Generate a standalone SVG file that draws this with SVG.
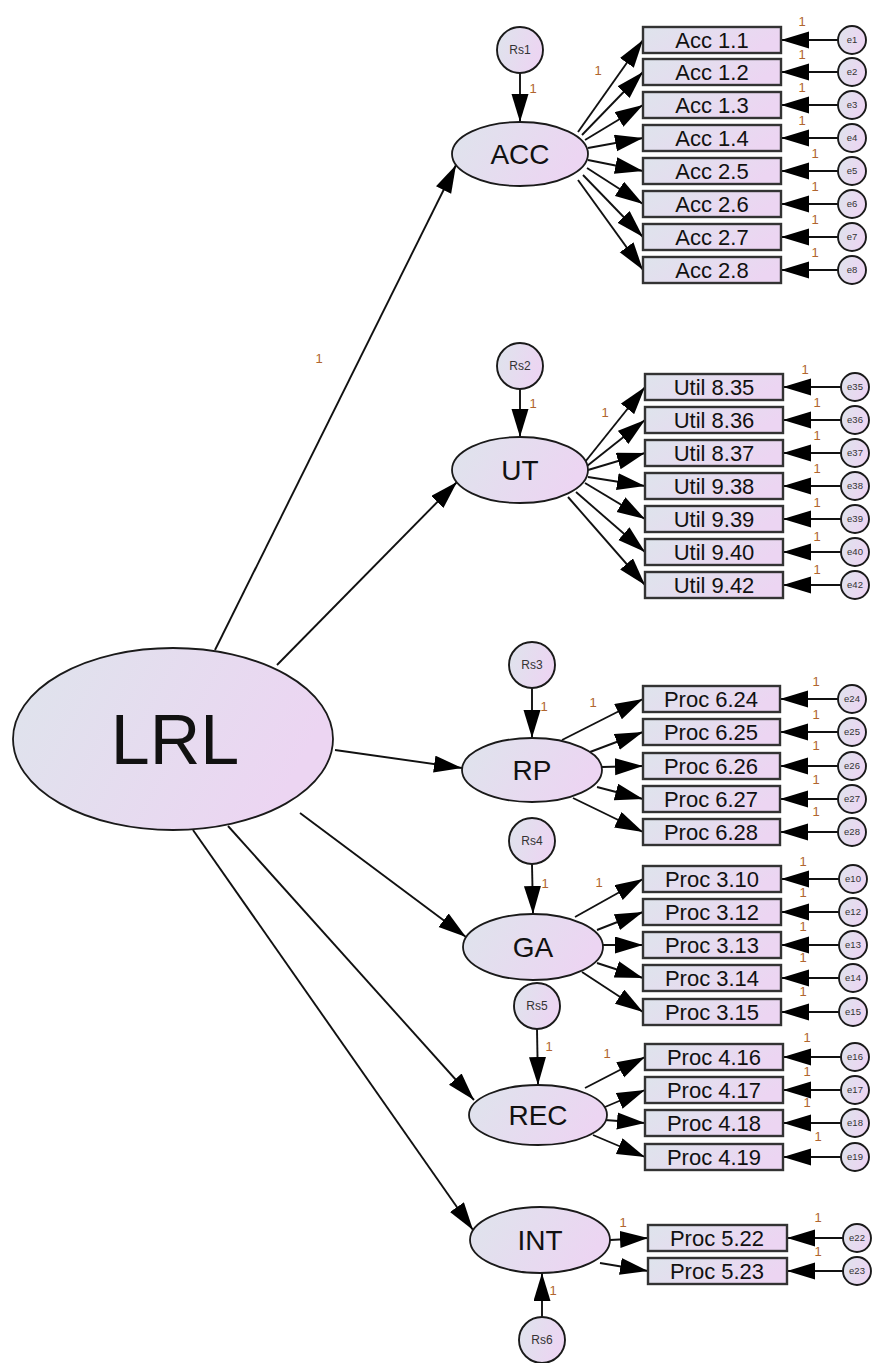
<svg xmlns="http://www.w3.org/2000/svg" width="874" height="1363" viewBox="0 0 874 1363">
<style>
.lat{fill:url(#g);stroke:#1a1a1a;stroke-width:1.8}
.obs{fill:url(#g);stroke:#333;stroke-width:2.4}
.err{fill:url(#g);stroke:#1a1a1a;stroke-width:1.9}
.ln{stroke:#111;stroke-width:1.9;fill:none;marker-end:url(#ah)}
.tx{font-family:"Liberation Sans",Arial,sans-serif;fill:#111;text-anchor:middle}
.big{font-size:70px}
.lt{font-size:28px}
.ot{font-size:22px}
.rs{font-size:12px;fill:#333}
.et{font-size:9.5px;fill:#333}
.one{font-family:"Liberation Sans",Arial,sans-serif;font-size:13px;fill:#b0652d;text-anchor:middle}
</style>
<defs>
<linearGradient id="g" x1="0" y1="0" x2="1" y2="0.3">
<stop offset="0" stop-color="#dee4ec"/>
<stop offset="1" stop-color="#ecd5f2"/>
</linearGradient>
<marker id="ah" markerUnits="userSpaceOnUse" markerWidth="30" markerHeight="18" refX="28" refY="8.5" orient="auto">
<path d="M0,0 L28,8.5 L0,17 z" fill="#000"/>
</marker>
</defs>
<rect width="874" height="1363" fill="#fff"/>

<g id="connectors">
<line class="ln" x1="215" y1="650" x2="456" y2="165"/>
<line class="ln" x1="277" y1="665" x2="457" y2="482"/>
<line class="ln" x1="335" y1="750" x2="462" y2="768"/>
<line class="ln" x1="300" y1="813" x2="466" y2="937"/>
<line class="ln" x1="228" y1="826" x2="474" y2="1100"/>
<line class="ln" x1="193" y1="830" x2="473" y2="1230"/>
<line class="ln" x1="520" y1="73" x2="520" y2="122"/>
<line class="ln" x1="520" y1="389" x2="520" y2="437"/>
<line class="ln" x1="532" y1="688" x2="532" y2="738"/>
<line class="ln" x1="532" y1="864" x2="533" y2="914"/>
<line class="ln" x1="537" y1="1029" x2="538" y2="1085"/>
<line class="ln" x1="542" y1="1317" x2="542" y2="1273"/>
<line class="ln" x1="578" y1="132" x2="643" y2="40"/>
<line class="ln" x1="582" y1="135" x2="643" y2="72"/>
<line class="ln" x1="585" y1="140" x2="643" y2="105"/>
<line class="ln" x1="588" y1="148" x2="643" y2="138"/>
<line class="ln" x1="588" y1="160" x2="643" y2="171"/>
<line class="ln" x1="587" y1="168" x2="643" y2="204"/>
<line class="ln" x1="583" y1="175" x2="643" y2="237"/>
<line class="ln" x1="578" y1="180" x2="643" y2="270"/>
<line class="ln" x1="585" y1="462" x2="645" y2="387"/>
<line class="ln" x1="587" y1="466" x2="645" y2="420"/>
<line class="ln" x1="588" y1="470" x2="645" y2="453"/>
<line class="ln" x1="588" y1="477" x2="645" y2="486"/>
<line class="ln" x1="585" y1="483" x2="645" y2="519"/>
<line class="ln" x1="576" y1="492" x2="645" y2="552"/>
<line class="ln" x1="568" y1="497" x2="645" y2="585"/>
<line class="ln" x1="562" y1="740" x2="643" y2="699"/>
<line class="ln" x1="590" y1="752" x2="643" y2="732"/>
<line class="ln" x1="602" y1="767" x2="643" y2="766"/>
<line class="ln" x1="597" y1="787" x2="643" y2="799"/>
<line class="ln" x1="573" y1="798" x2="643" y2="832"/>
<line class="ln" x1="575" y1="917" x2="643" y2="879"/>
<line class="ln" x1="597" y1="930" x2="643" y2="912"/>
<line class="ln" x1="603" y1="945" x2="643" y2="945"/>
<line class="ln" x1="597" y1="963" x2="643" y2="978"/>
<line class="ln" x1="582" y1="972" x2="643" y2="1012"/>
<line class="ln" x1="585" y1="1088" x2="645" y2="1057"/>
<line class="ln" x1="605" y1="1107" x2="645" y2="1090"/>
<line class="ln" x1="605" y1="1120" x2="645" y2="1123"/>
<line class="ln" x1="593" y1="1135" x2="645" y2="1157"/>
<line class="ln" x1="610" y1="1240" x2="648" y2="1238"/>
<line class="ln" x1="600" y1="1263" x2="648" y2="1271"/>
<line class="ln" x1="838" y1="40" x2="781" y2="40"/>
<line class="ln" x1="838" y1="72" x2="781" y2="72"/>
<line class="ln" x1="838" y1="105" x2="781" y2="105"/>
<line class="ln" x1="838" y1="138" x2="781" y2="138"/>
<line class="ln" x1="838" y1="171" x2="781" y2="171"/>
<line class="ln" x1="838" y1="204" x2="781" y2="204"/>
<line class="ln" x1="838" y1="237" x2="781" y2="237"/>
<line class="ln" x1="838" y1="270" x2="781" y2="270"/>
<line class="ln" x1="841" y1="387" x2="783" y2="387"/>
<line class="ln" x1="841" y1="420" x2="783" y2="420"/>
<line class="ln" x1="841" y1="453" x2="783" y2="453"/>
<line class="ln" x1="841" y1="486" x2="783" y2="486"/>
<line class="ln" x1="841" y1="519" x2="783" y2="519"/>
<line class="ln" x1="841" y1="552" x2="783" y2="552"/>
<line class="ln" x1="841" y1="585" x2="783" y2="585"/>
<line class="ln" x1="838" y1="699" x2="780" y2="699"/>
<line class="ln" x1="838" y1="732" x2="780" y2="732"/>
<line class="ln" x1="838" y1="766" x2="780" y2="766"/>
<line class="ln" x1="838" y1="799" x2="780" y2="799"/>
<line class="ln" x1="838" y1="832" x2="780" y2="832"/>
<line class="ln" x1="839" y1="879" x2="781" y2="879"/>
<line class="ln" x1="839" y1="912" x2="781" y2="912"/>
<line class="ln" x1="839" y1="945" x2="781" y2="945"/>
<line class="ln" x1="839" y1="978" x2="781" y2="978"/>
<line class="ln" x1="839" y1="1012" x2="781" y2="1012"/>
<line class="ln" x1="841" y1="1057" x2="783" y2="1057"/>
<line class="ln" x1="841" y1="1090" x2="783" y2="1090"/>
<line class="ln" x1="841" y1="1123" x2="783" y2="1123"/>
<line class="ln" x1="841" y1="1157" x2="783" y2="1157"/>
<line class="ln" x1="843" y1="1238" x2="787" y2="1238"/>
<line class="ln" x1="843" y1="1271" x2="787" y2="1271"/>
<text class="one" x="319" y="363">1</text>
<text class="one" x="598" y="75">1</text>
<text class="one" x="605" y="417">1</text>
<text class="one" x="593" y="707">1</text>
<text class="one" x="599" y="887">1</text>
<text class="one" x="607" y="1058">1</text>
<text class="one" x="623" y="1227">1</text>
<text class="one" x="533" y="93">1</text>
<text class="one" x="533" y="408">1</text>
<text class="one" x="544" y="711">1</text>
<text class="one" x="545" y="888">1</text>
<text class="one" x="549" y="1051">1</text>
<text class="one" x="553" y="1295">1</text>
<text class="one" x="802" y="26">1</text>
<text class="one" x="802" y="59">1</text>
<text class="one" x="802" y="92">1</text>
<text class="one" x="802" y="125">1</text>
<text class="one" x="815" y="158">1</text>
<text class="one" x="815" y="191">1</text>
<text class="one" x="815" y="224">1</text>
<text class="one" x="815" y="257">1</text>
<text class="one" x="805" y="374">1</text>
<text class="one" x="817" y="407">1</text>
<text class="one" x="817" y="440">1</text>
<text class="one" x="817" y="473">1</text>
<text class="one" x="817" y="507">1</text>
<text class="one" x="817" y="541">1</text>
<text class="one" x="817" y="574">1</text>
<text class="one" x="816" y="686">1</text>
<text class="one" x="816" y="719">1</text>
<text class="one" x="816" y="750">1</text>
<text class="one" x="816" y="784">1</text>
<text class="one" x="816" y="816">1</text>
<text class="one" x="803" y="866">1</text>
<text class="one" x="803" y="897">1</text>
<text class="one" x="803" y="931">1</text>
<text class="one" x="803" y="962">1</text>
<text class="one" x="803" y="996">1</text>
<text class="one" x="807" y="1042">1</text>
<text class="one" x="807" y="1076">1</text>
<text class="one" x="807" y="1107">1</text>
<text class="one" x="818" y="1141">1</text>
<text class="one" x="818" y="1222">1</text>
<text class="one" x="818" y="1256">1</text>
</g>

<g id="LRL"><ellipse class="lat" cx="173" cy="739" rx="160" ry="91"/><text class="tx big" x="175" y="764">LRL</text></g>

<g id="ACC"><ellipse class="lat" cx="520" cy="154" rx="68" ry="32"/><text class="tx lt" x="520" y="164">ACC</text></g>
<g id="UT"><ellipse class="lat" cx="520" cy="470" rx="68" ry="33"/><text class="tx lt" x="520" y="480">UT</text></g>
<g id="RP"><ellipse class="lat" cx="532" cy="770" rx="70" ry="32"/><text class="tx lt" x="532" y="780">RP</text></g>
<g id="GA"><ellipse class="lat" cx="533" cy="947" rx="70" ry="33"/><text class="tx lt" x="533" y="957">GA</text></g>
<g id="REC"><ellipse class="lat" cx="538" cy="1115" rx="69" ry="30"/><text class="tx lt" x="538" y="1125">REC</text></g>
<g id="INT"><ellipse class="lat" cx="540" cy="1240" rx="70" ry="33"/><text class="tx lt" x="540" y="1250">INT</text></g>

<g id="Rs1"><circle class="err" cx="520" cy="50" r="23"/><text class="tx rs" x="520" y="54">Rs1</text></g>
<g id="Rs2"><circle class="err" cx="520" cy="366" r="23"/><text class="tx rs" x="520" y="370">Rs2</text></g>
<g id="Rs3"><circle class="err" cx="532" cy="665" r="23"/><text class="tx rs" x="532" y="669">Rs3</text></g>
<g id="Rs4"><circle class="err" cx="532" cy="841" r="23"/><text class="tx rs" x="532" y="845">Rs4</text></g>
<g id="Rs5"><circle class="err" cx="537" cy="1006" r="23"/><text class="tx rs" x="537" y="1010">Rs5</text></g>
<g id="Rs6"><circle class="err" cx="542" cy="1340" r="23"/><text class="tx rs" x="542" y="1344">Rs6</text></g>

<g id="acc11"><rect class="obs" x="643" y="27" width="138" height="26"/><text class="tx ot" x="712" y="48">Acc 1.1</text></g>
<g id="acc12"><rect class="obs" x="643" y="59" width="138" height="26"/><text class="tx ot" x="712" y="80">Acc 1.2</text></g>
<g id="acc13"><rect class="obs" x="643" y="92" width="138" height="26"/><text class="tx ot" x="712" y="113">Acc 1.3</text></g>
<g id="acc14"><rect class="obs" x="643" y="125" width="138" height="26"/><text class="tx ot" x="712" y="146">Acc 1.4</text></g>
<g id="acc25"><rect class="obs" x="643" y="158" width="138" height="26"/><text class="tx ot" x="712" y="179">Acc 2.5</text></g>
<g id="acc26"><rect class="obs" x="643" y="191" width="138" height="26"/><text class="tx ot" x="712" y="212">Acc 2.6</text></g>
<g id="acc27"><rect class="obs" x="643" y="224" width="138" height="26"/><text class="tx ot" x="712" y="245">Acc 2.7</text></g>
<g id="acc28"><rect class="obs" x="643" y="257" width="138" height="26"/><text class="tx ot" x="712" y="278">Acc 2.8</text></g>

<g id="u835"><rect class="obs" x="645" y="374" width="138" height="26"/><text class="tx ot" x="714" y="395">Util 8.35</text></g>
<g id="u836"><rect class="obs" x="645" y="407" width="138" height="26"/><text class="tx ot" x="714" y="428">Util 8.36</text></g>
<g id="u837"><rect class="obs" x="645" y="440" width="138" height="26"/><text class="tx ot" x="714" y="461">Util 8.37</text></g>
<g id="u938"><rect class="obs" x="645" y="473" width="138" height="26"/><text class="tx ot" x="714" y="494">Util 9.38</text></g>
<g id="u939"><rect class="obs" x="645" y="506" width="138" height="26"/><text class="tx ot" x="714" y="527">Util 9.39</text></g>
<g id="u940"><rect class="obs" x="645" y="539" width="138" height="26"/><text class="tx ot" x="714" y="560">Util 9.40</text></g>
<g id="u942"><rect class="obs" x="645" y="572" width="138" height="26"/><text class="tx ot" x="714" y="593">Util 9.42</text></g>

<g id="p624"><rect class="obs" x="643" y="686" width="137" height="26"/><text class="tx ot" x="711" y="707">Proc 6.24</text></g>
<g id="p625"><rect class="obs" x="643" y="719" width="137" height="26"/><text class="tx ot" x="711" y="740">Proc 6.25</text></g>
<g id="p626"><rect class="obs" x="643" y="753" width="137" height="26"/><text class="tx ot" x="711" y="774">Proc 6.26</text></g>
<g id="p627"><rect class="obs" x="643" y="786" width="137" height="26"/><text class="tx ot" x="711" y="807">Proc 6.27</text></g>
<g id="p628"><rect class="obs" x="643" y="819" width="137" height="26"/><text class="tx ot" x="711" y="840">Proc 6.28</text></g>

<g id="p310"><rect class="obs" x="643" y="866" width="138" height="26"/><text class="tx ot" x="712" y="887">Proc 3.10</text></g>
<g id="p312"><rect class="obs" x="643" y="899" width="138" height="26"/><text class="tx ot" x="712" y="920">Proc 3.12</text></g>
<g id="p313"><rect class="obs" x="643" y="932" width="138" height="26"/><text class="tx ot" x="712" y="953">Proc 3.13</text></g>
<g id="p314"><rect class="obs" x="643" y="965" width="138" height="26"/><text class="tx ot" x="712" y="986">Proc 3.14</text></g>
<g id="p315"><rect class="obs" x="643" y="999" width="138" height="26"/><text class="tx ot" x="712" y="1020">Proc 3.15</text></g>

<g id="p416"><rect class="obs" x="645" y="1044" width="138" height="26"/><text class="tx ot" x="714" y="1065">Proc 4.16</text></g>
<g id="p417"><rect class="obs" x="645" y="1077" width="138" height="26"/><text class="tx ot" x="714" y="1098">Proc 4.17</text></g>
<g id="p418"><rect class="obs" x="645" y="1110" width="138" height="26"/><text class="tx ot" x="714" y="1131">Proc 4.18</text></g>
<g id="p419"><rect class="obs" x="645" y="1144" width="138" height="26"/><text class="tx ot" x="714" y="1165">Proc 4.19</text></g>

<g id="p522"><rect class="obs" x="648" y="1225" width="139" height="26"/><text class="tx ot" x="717" y="1246">Proc 5.22</text></g>
<g id="p523"><rect class="obs" x="648" y="1258" width="139" height="26"/><text class="tx ot" x="717" y="1279">Proc 5.23</text></g>

<g id="e1"><circle class="err" cx="852" cy="40" r="14"/><text class="tx et" x="852" y="43">e1</text></g>
<g id="e2"><circle class="err" cx="852" cy="72" r="14"/><text class="tx et" x="852" y="75">e2</text></g>
<g id="e3"><circle class="err" cx="852" cy="105" r="14"/><text class="tx et" x="852" y="108">e3</text></g>
<g id="e4"><circle class="err" cx="852" cy="138" r="14"/><text class="tx et" x="852" y="141">e4</text></g>
<g id="e5"><circle class="err" cx="852" cy="171" r="14"/><text class="tx et" x="852" y="174">e5</text></g>
<g id="e6"><circle class="err" cx="852" cy="204" r="14"/><text class="tx et" x="852" y="207">e6</text></g>
<g id="e7"><circle class="err" cx="852" cy="237" r="14"/><text class="tx et" x="852" y="240">e7</text></g>
<g id="e8"><circle class="err" cx="852" cy="270" r="14"/><text class="tx et" x="852" y="273">e8</text></g>

<g id="e35"><circle class="err" cx="855" cy="387" r="14"/><text class="tx et" x="855" y="390">e35</text></g>
<g id="e36"><circle class="err" cx="855" cy="420" r="14"/><text class="tx et" x="855" y="423">e36</text></g>
<g id="e37"><circle class="err" cx="855" cy="453" r="14"/><text class="tx et" x="855" y="456">e37</text></g>
<g id="e38"><circle class="err" cx="855" cy="486" r="14"/><text class="tx et" x="855" y="489">e38</text></g>
<g id="e39"><circle class="err" cx="855" cy="519" r="14"/><text class="tx et" x="855" y="522">e39</text></g>
<g id="e40"><circle class="err" cx="855" cy="552" r="14"/><text class="tx et" x="855" y="555">e40</text></g>
<g id="e42"><circle class="err" cx="855" cy="585" r="14"/><text class="tx et" x="855" y="588">e42</text></g>

<g id="e24"><circle class="err" cx="852" cy="699" r="14"/><text class="tx et" x="852" y="702">e24</text></g>
<g id="e25"><circle class="err" cx="852" cy="732" r="14"/><text class="tx et" x="852" y="735">e25</text></g>
<g id="e26"><circle class="err" cx="852" cy="766" r="14"/><text class="tx et" x="852" y="769">e26</text></g>
<g id="e27"><circle class="err" cx="852" cy="799" r="14"/><text class="tx et" x="852" y="802">e27</text></g>
<g id="e28"><circle class="err" cx="852" cy="832" r="14"/><text class="tx et" x="852" y="835">e28</text></g>

<g id="e10"><circle class="err" cx="853" cy="879" r="14"/><text class="tx et" x="853" y="882">e10</text></g>
<g id="e12"><circle class="err" cx="853" cy="912" r="14"/><text class="tx et" x="853" y="915">e12</text></g>
<g id="e13"><circle class="err" cx="853" cy="945" r="14"/><text class="tx et" x="853" y="948">e13</text></g>
<g id="e14"><circle class="err" cx="853" cy="978" r="14"/><text class="tx et" x="853" y="981">e14</text></g>
<g id="e15"><circle class="err" cx="853" cy="1012" r="14"/><text class="tx et" x="853" y="1015">e15</text></g>

<g id="e16"><circle class="err" cx="855" cy="1057" r="14"/><text class="tx et" x="855" y="1060">e16</text></g>
<g id="e17"><circle class="err" cx="855" cy="1090" r="14"/><text class="tx et" x="855" y="1093">e17</text></g>
<g id="e18"><circle class="err" cx="855" cy="1123" r="14"/><text class="tx et" x="855" y="1126">e18</text></g>
<g id="e19"><circle class="err" cx="855" cy="1157" r="14"/><text class="tx et" x="855" y="1160">e19</text></g>

<g id="e22"><circle class="err" cx="857" cy="1238" r="14"/><text class="tx et" x="857" y="1241">e22</text></g>
<g id="e23"><circle class="err" cx="857" cy="1271" r="14"/><text class="tx et" x="857" y="1274">e23</text></g>
</svg>
